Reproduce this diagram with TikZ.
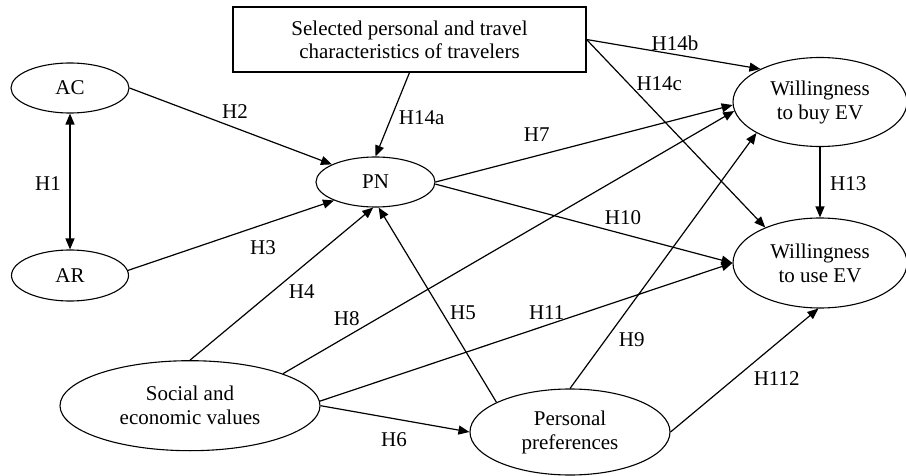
\documentclass[tikz,border=0pt]{standalone}
\usepackage{fontspec}
\setmainfont{Liberation Serif}
\usetikzlibrary{shapes.geometric,arrows.meta}
\begin{document}
\begin{tikzpicture}[x=1pt,y=-1pt,
  font=\fontsize{21}{24}\selectfont,
  ell/.style={draw, ellipse, inner sep=0pt, align=center, line width=1.1pt},
  boxnode/.style={draw, rectangle, inner sep=0pt, align=center, line width=1.1pt},
  arr/.style={line width=1.2pt, -{Triangle[length=11pt,width=9pt]}},
  darr/.style={line width=1.2pt, {Triangle[length=11pt,width=9pt]}-{Triangle[length=11pt,width=9pt]}},
  lab/.style={inner sep=0pt, anchor=center}]
\useasboundingbox (0,0) rectangle (906,476);
% nodes
\node[boxnode, minimum width=353pt, minimum height=65pt] (box) at (409.5,39.5)
  {Selected personal and travel\\[-1pt]characteristics of travelers};
\node[ell, minimum width=118pt, minimum height=50pt] (AC) at (70,88) {AC};
\node[ell, minimum width=117pt, minimum height=51pt] (AR) at (70,275.5) {AR};
\node[ell, minimum width=119pt, minimum height=50pt] (PN) at (375.5,182) {PN};
\node[ell, minimum width=260pt, minimum height=90pt] (SE) at (190,405.7)
  {Social and\\economic values};
\node[ell, minimum width=200pt, minimum height=86pt] (PP) at (570,432)
  {Personal\\preferences};
\node[ell, minimum width=174pt, minimum height=89pt] (WB) at (820,102)
  {Willingness\\to buy EV};
\node[ell, minimum width=174pt, minimum height=90pt] (WU) at (820,263)
  {Willingness\\to use EV};
% connectors
\draw[darr] (AC.south) -- (AR.north);
\draw[arr] (AC.east) -- (PN.158);
\draw[arr] (AR.5) -- (PN.204);
\draw[arr] (SE.north) -- (PN.265);
\draw[arr] (PP.158) -- (PN.277);
\draw[arr] (SE.east) -- (PP.west);
\draw[arr] (PN.east) -- (WB.182);
\draw[arr] (SE.19) -- (WB.186);
\draw[arr] (PP.north) -- (WB.206);
\draw[arr] (PN.358) -- (WU.west);
\draw[arr] (SE.2) -- (WU.west);
\draw[arr] (PP.east) -- (WU.268);
\draw[arr] (WB.south) -- (WU.north);
\draw[arr] (box.south) -- (PN.north);
\draw[arr] (box.east) -- (WB.151);
\draw[arr] (box.east) -- (WU.147);
% labels
\node[lab] (l1) at (48,184) {H1};
\node[lab] (l2) at (235,112) {H2};
\node[lab] (l3) at (263,248) {H3};
\node[lab] (l4) at (301.7,291.7) {H4};
\node[lab] (l5) at (463,313) {H5};
\node[lab] (l6) at (394,440) {H6};
\node[lab] (l7) at (536.7,135) {H7};
\node[lab] (l8) at (346.7,318.3) {H8};
\node[lab] (l9) at (631.7,340) {H9};
\node[lab] (l10) at (623,218) {H10};
\node[lab] (l11) at (546.7,313) {H11};
\node[lab] (l112) at (776.7,379) {H112};
\node[lab] (l13) at (848.3,183.3) {H13};
\node[lab] (l14a) at (421.7,118) {H14a};
\node[lab] (l14b) at (675,43.3) {H14b};
\node[lab] (l14c) at (659.3,83.3) {H14c};
\end{tikzpicture}
\end{document}
